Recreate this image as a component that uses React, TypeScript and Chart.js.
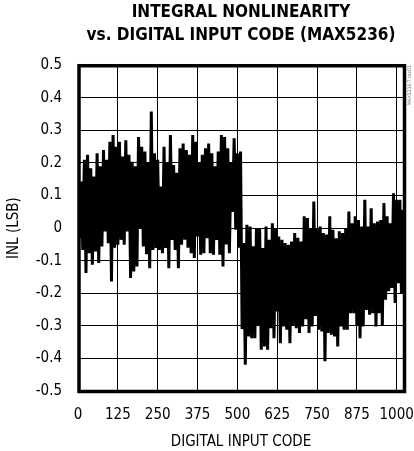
import React, { useEffect, useRef } from 'react';
import { Chart, registerables } from 'chart.js';

Chart.register(...registerables);

const TITLE_LINES = ['INTEGRAL NONLINEARITY', 'vs. DIGITAL INPUT CODE (MAX5236)'];
const X_TITLE = 'DIGITAL INPUT CODE';
const Y_TITLE = 'INL (LSB)';
const NOTE = 'MAX5236/7 toc01';

const X_TICKS = [0, 125, 250, 375, 500, 625, 750, 875, 1000];
const Y_TICKS = [-0.5, -0.4, -0.3, -0.2, -0.1, 0, 0.1, 0.2, 0.3, 0.4, 0.5];
const CODE_MIN = 0;
const CODE_MAX = 1023;
const CODE_STEP = 5;

// INL (LSB), codes 0..510 every 5 codes
const INL_LOW_CODES = [
  0.10, -0.03, 0.143, -0.067, 0.21, -0.138, 0.225, -0.077, 0.184, -0.112,
  0.158, -0.072, 0.23, -0.107, 0.19, -0.056, 0.24, -0.01, 0.21, -0.046,
  0.265, -0.164, 0.286, -0.06, 0.25, -0.051, 0.265, -0.036, 0.22, -0.051,
  0.27, -0.01, 0.225, -0.153, 0.204, -0.133, 0.19, -0.118, 0.28, 0.0,
  0.25, -0.056, 0.235, -0.08, 0.2, -0.123, 0.358, -0.067, 0.23, -0.061,
  0.21, -0.067, 0.128, -0.077, 0.25, -0.061, 0.2, -0.123, 0.286, -0.036,
  0.194, -0.067, 0.17, -0.123, 0.245, -0.051, 0.26, -0.036, 0.24, -0.06,
  0.225, -0.077, 0.286, -0.092, 0.265, -0.026, 0.2, -0.082, 0.225, -0.077,
  0.245, -0.031, 0.26, -0.077, 0.23, -0.082, 0.19, -0.036, 0.235, -0.082,
  0.286, -0.118, 0.28, -0.05, 0.245, -0.077, 0.2, 0.05, 0.276, -0.005,
  0.23, -0.06, 0.235,
];

// INL (LSB), codes 515..1020 every 5 codes
const INL_HIGH_CODES = [
  -0.31, -0.046, -0.419, 0.01, -0.333, 0.005, -0.338, -0.056, -0.338, 0.0,
  -0.3, 0.0, -0.373, -0.061, -0.363, 0.005, -0.373, -0.036, -0.307, 0.015,
  -0.338, 0.0, -0.256, -0.026, -0.353, -0.036, -0.302, -0.046, -0.312, -0.051,
  -0.353, -0.041, -0.297, -0.015, -0.307, -0.03, -0.322, -0.041, -0.302, 0.036,
  -0.28, 0.031, -0.322, 0.0, -0.302, 0.082, -0.27, 0.0, -0.312, 0.005,
  -0.317, -0.015, -0.409, -0.02, -0.322, 0.036, -0.327, -0.005, -0.333, -0.031,
  -0.363, -0.01, -0.302, -0.015, -0.312, 0.0, -0.312, 0.051, -0.261, 0.015,
  -0.261, 0.036, -0.3, 0.025, -0.338, 0.005, -0.302, 0.087, -0.251, 0.005,
  -0.266, 0.061, -0.261, 0.015, -0.302, 0.02, -0.261, 0.025, -0.297, 0.077,
  -0.22, 0.036, -0.194, 0.015, -0.184, 0.107, -0.23, 0.087, -0.169, 0.087,
  -0.2, 0.056,
];

const FONT = '"Liberation Sans Narrow", "Arial Narrow", "DejaVu Sans Condensed", sans-serif';

const framePlugin = {
  id: 'frame',
  afterDatasetsDraw(chart: any) {
    const { ctx, chartArea } = chart;
    const { left, top, right, bottom } = chartArea;
    ctx.save();
    ctx.strokeStyle = '#000';
    ctx.lineWidth = 3.5;
    ctx.strokeRect(left + 1, top + 0.5, right - left - 0.5, bottom - top);
    ctx.restore();
  },
  afterDraw(chart: any) {
    const { ctx, chartArea } = chart;
    ctx.save();
    ctx.translate(chartArea.right + 6, chartArea.top + 20);
    ctx.rotate(-Math.PI / 2);
    ctx.fillStyle = '#777';
    ctx.font = '5px ' + FONT;
    ctx.textAlign = 'center';
    ctx.textBaseline = 'middle';
    ctx.fillText(NOTE, 0, 0);
    ctx.restore();
  },
};

export default function App() {
  const canvasRef = useRef<HTMLCanvasElement | null>(null);

  useEffect(() => {
    const canvas = canvasRef.current;
    if (!canvas) return;
    const values = [...INL_LOW_CODES, ...INL_HIGH_CODES];
    const points = values.map((v, i) => ({ x: CODE_MIN + i * CODE_STEP, y: v }));

    const chart = new Chart(canvas, {
      type: 'line',
      data: {
        datasets: [
          {
            data: points,
            borderColor: '#000',
            borderWidth: 3,
            borderJoinStyle: 'bevel',
            pointRadius: 0,
            tension: 0,
            fill: false,
          },
        ],
      },
      options: {
        animation: false,
        responsive: false,
        devicePixelRatio: 1,
        layout: { padding: { left: 0, right: 10, top: 0, bottom: 0 } },
        plugins: {
          legend: { display: false },
          tooltip: { enabled: false },
          title: {
            display: true,
            text: TITLE_LINES,
            fullSize: false,
            color: '#000',
            font: { family: FONT, size: 17, weight: 'bold', lineHeight: 1.36 },
            padding: { top: 1, bottom: 18 },
          },
        },
        scales: {
          x: {
            type: 'linear',
            min: CODE_MIN,
            max: CODE_MAX,
            afterBuildTicks: (s: any) => {
              s.ticks = X_TICKS.map((v) => ({ value: v }));
            },
            afterFit: (s: any) => {
              s.height = 60;
              s.paddingLeft = 0;
              s.paddingRight = 0;
            },
            grid: { color: '#000', lineWidth: 1, drawTicks: false },
            border: { display: false },
            ticks: {
              color: '#000',
              font: { family: FONT, size: 15 },
              padding: 15,
              maxRotation: 0,
              autoSkip: false,
              callback: (v: any) => String(v),
            },
            title: {
              display: true,
              text: X_TITLE,
              color: '#000',
              font: { family: FONT, size: 15 },
              padding: { top: 0, bottom: 0 },
            },
          },
          y: {
            type: 'linear',
            min: -0.5,
            max: 0.5,
            afterBuildTicks: (s: any) => {
              s.ticks = Y_TICKS.map((v) => ({ value: v }));
            },
            afterFit: (s: any) => {
              s.width = 78;
              s.paddingTop = 0;
              s.paddingBottom = 0;
            },
            grid: { color: '#000', lineWidth: 1, drawTicks: false },
            border: { display: false },
            ticks: {
              color: '#000',
              font: { family: FONT, size: 15 },
              padding: 16,
              autoSkip: false,
              callback: (v: any) => {
                const r = Math.round(Number(v) * 10) / 10;
                return r === 0 ? '0' : String(r);
              },
            },
            title: {
              display: true,
              text: Y_TITLE,
              color: '#000',
              font: { family: FONT, size: 15 },
              padding: { top: 5, bottom: 0 },
            },
          },
        },
      },
      plugins: [framePlugin],
    } as any);

    return () => chart.destroy();
  }, []);

  return (
    <div style={{ position: 'absolute', left: 0, top: 0, width: 414, height: 451, background: '#fff' }}>
      <canvas ref={canvasRef} width={414} height={451} style={{ display: 'block' }} />
    </div>
  );
}
